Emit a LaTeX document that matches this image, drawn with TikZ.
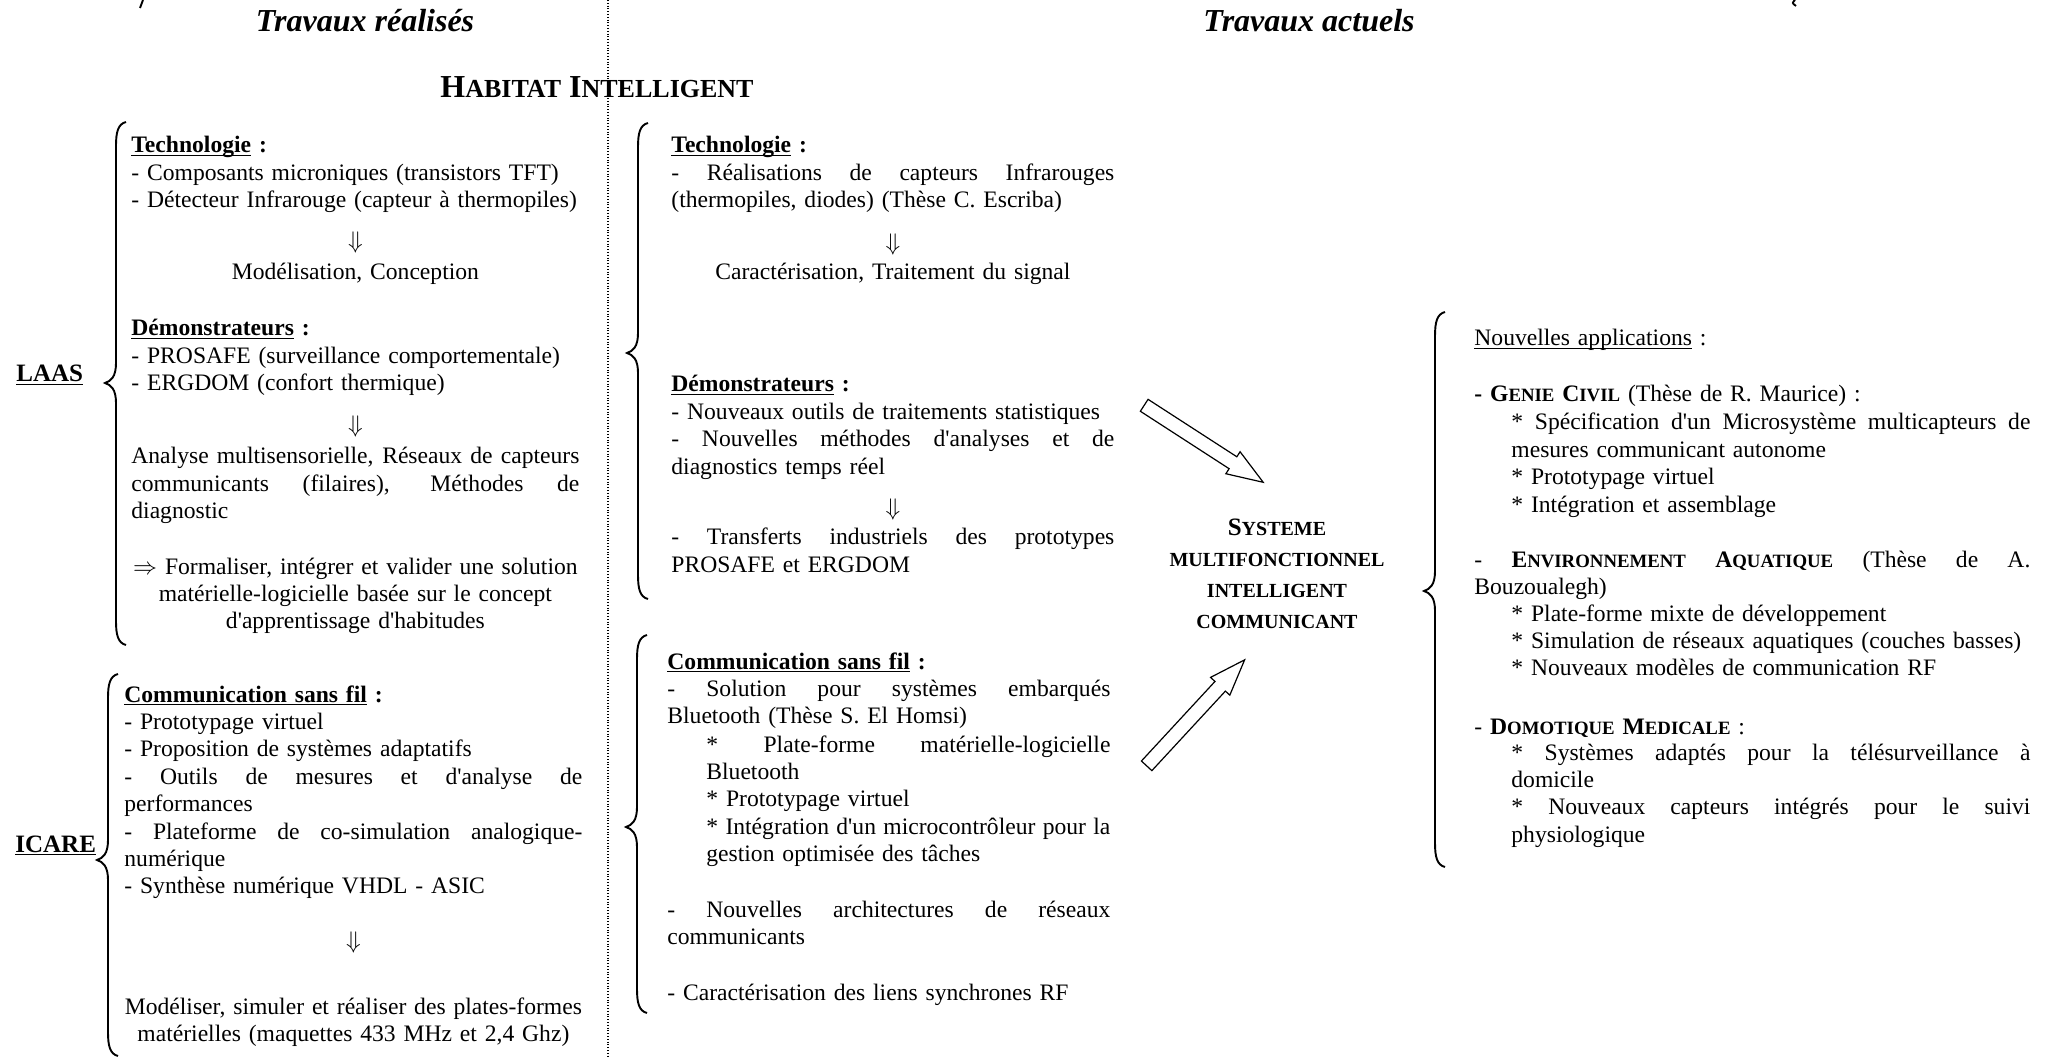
\documentclass[tikz,border=0pt]{standalone}
\usepackage{fontspec}
\newfontfamily\tnr{Liberation Serif}
\usetikzlibrary{calc,shapes.arrows}
\tolerance=10000 \hbadness=10000 \hfuzz=8pt
\hyphenpenalty=10000 \exhyphenpenalty=10000
\newcommand\bodyfont{\tnr\fontsize{11.8}{13.7}\selectfont}
\newcommand\smc[1]{{\fontsize{9.4}{13.7}\selectfont #1}}
% underline sitting just under the baseline
\newcommand\uln[1]{\begingroup\setbox0=\hbox{#1}\rlap{\rule[-1.7pt]{\wd0}{0.75pt}}\box0\endgroup}
% a line spread to the full text width
\newcommand\jline[1]{\leavevmode\hbox to \hsize{\spaceskip=0.25em plus 1fill\relax #1}}
% left curly brace: stem x, top y, tip y, bottom y
\newcommand\wbrace[4]{%
  \draw[bracestyle] ({#1+10},{#2}) .. controls ({#1+2},{#2+2}) and ({#1},{#2+10}) .. ({#1},{#2+24})
    -- ({#1},{#3-20}) .. controls ({#1},{#3-6}) and ({#1-5},{#3-2}) .. ({#1-11},{#3})
    .. controls ({#1-5},{#3+2}) and ({#1},{#3+6}) .. ({#1},{#3+20})
    -- ({#1},{#4-24}) .. controls ({#1},{#4-10}) and ({#1+2},{#4-2}) .. ({#1+10},{#4});}
\begin{document}
\begin{tikzpicture}[x=0.5pt,y=-0.5pt,
  blk/.style={anchor=base west, inner sep=0pt, font=\bodyfont, align=left, text width=#1},
  blkc/.style={anchor=base west, inner sep=0pt, font=\bodyfont, align=center, text width=#1},
  title/.style={anchor=base, inner sep=0pt, font=\tnr\fontsize{16}{19}\selectfont\bfseries\itshape},
  lab/.style={anchor=base west, inner sep=0pt, font=\tnr\fontsize{12.5}{14}\selectfont\bfseries},
  bracestyle/.style={line width=0.95pt},
  sep/.style={line width=0.55pt, dash pattern=on 0.5pt off 0.9pt},
  fatarrow/.style={draw, line width=0.6pt, fill=white, single arrow,
    single arrow head extend=3pt, minimum width=12.5pt,
    single arrow tip angle=40, inner xsep=0pt, inner ysep=3.25pt}]
\useasboundingbox (0,0) rectangle (2054,1058);

% column titles and separator
\node[title] (t1) at (365,32) {Travaux réalisés};
\node[title] (t2) at (1309,32) {Travaux actuels};
\coordinate (septop) at (608,0);
\coordinate (sepbot) at (608,1058);
\draw[sep] (septop) -- (sepbot);
\node[anchor=base, inner sep=0pt, font=\tnr\bfseries\fontsize{16}{18}\selectfont] (hab) at (597,98)
  {H{\fontsize{13}{18}\selectfont ABITAT} I{\fontsize{13}{18}\selectfont NTELLIGENT}};

% small marks along the top edge
\draw[bracestyle] (143,0) -- (140,8);
\draw[bracestyle] (1795,0) .. controls (1792,3) .. (1796,6);

% ---------------- LAAS ----------------
\node[lab] (laas) at (16,382) {\uln{LAAS}};
\wbrace{116}{122}{383}{645}
\node[blk=224pt] (l1) at (131,153) {\uln{\textbf{Technologie}} \textbf{:}\\
  - Composants microniques (transistors TFT)\\
  - Détecteur Infrarouge (capteur à thermopiles)};
\node[blkc=224pt] (l2) at (131,249) {$\Downarrow$};
\node[blkc=224pt] (l3) at (131,280) {Modélisation, Conception};
\node[blk=224pt] (l4) at (131,336) {\uln{\textbf{Démonstrateurs}} \textbf{:}\\
  - PROSAFE (surveillance comportementale)\\
  - ERGDOM (confort thermique)};
\node[blkc=224pt] (l5) at (131,433) {$\Downarrow$};
\node[blk=224pt] (l6) at (131,464) {\jline{Analyse multisensorielle, Réseaux de capteurs}\\
  \jline{communicants (filaires), Méthodes de}\\ diagnostic};
\node[blkc=224pt] (l7) at (131,574) {$\Rightarrow$ Formaliser, intégrer et valider une solution\\
  matérielle-logicielle basée sur le concept\\ d'apprentissage d'habitudes};

% ---------------- ICARE ----------------
\node[lab] (icare) at (15,852) {\uln{ICARE}};
\wbrace{108}{674}{860}{1056}
\node[blk=229pt] (i1) at (124,702) {\uln{\textbf{Communication sans fil}} \textbf{:}\\
  - Prototypage virtuel\\
  - Proposition de systèmes adaptatifs\\
  \jline{- Outils de mesures et d'analyse de}\\ performances\\
  \jline{- Plateforme de co-simulation analogique-}\\ numérique\\
  - Synthèse numérique VHDL - ASIC};
\node[blkc=229pt] (i2) at (124,948) {$\Downarrow$};
\node[blkc=229pt] (i3) at (124,1014) {Modéliser, simuler et réaliser des plates-formes\\
  matérielles (maquettes 433 MHz et 2,4 Ghz)};

% ---------------- current work, upper group ----------------
\wbrace{638}{123}{353}{599}
\node[blk=221.5pt] (m1) at (671,153) {\uln{\textbf{Technologie}} \textbf{:}\\
  \jline{- Réalisations de capteurs Infrarouges}\\ (thermopiles, diodes) (Thèse C. Escriba)};
\node[blkc=221.5pt] (m2) at (671,251) {$\Downarrow$};
\node[blkc=221.5pt] (m3) at (671,280) {Caractérisation, Traitement du signal};
\node[blk=221.5pt] (m4) at (671,392) {\uln{\textbf{Démonstrateurs}} \textbf{:}\\
  - Nouveaux outils de traitements statistiques\\
  \jline{- Nouvelles méthodes d'analyses et de}\\ diagnostics temps réel};
\node[blkc=221.5pt] (m5) at (671,516) {$\Downarrow$};
\node[blk=221.5pt] (m6) at (671,545) {\jline{- Transferts industriels des prototypes}\\ PROSAFE et ERGDOM};

% ---------------- current work, lower group ----------------
\wbrace{637}{635}{827}{1013}
\node[blk=221.5pt] (b1) at (667,669) {\uln{\textbf{Communication sans fil}} \textbf{:}\\
  \jline{- Solution pour systèmes embarqués}\\ Bluetooth (Thèse S. El Homsi)};
\node[blk=202pt] (b2) at (706,752) {\jline{* Plate-forme matérielle-logicielle}\\ Bluetooth\\
  {}* Prototypage virtuel\\
  \jline{* Intégration d'un microcontrôleur pour la}\\ gestion optimisée des tâches};
\node[blk=221.5pt] (b3) at (667,917) {\jline{- Nouvelles architectures de réseaux}\\ communicants};
\node[blk=221.5pt] (b4) at (667,1000) {- Caractérisation des liens synchrones RF};

% ---------------- central system ----------------
\node[anchor=base, inner sep=0pt, text width=150pt, align=center,
      font=\tnr\bfseries\fontsize{10}{15.5}\selectfont] (sys) at (1277,535)
  {{\fontsize{12.5}{15.5}\selectfont S}YSTEME\\ MULTIFONCTIONNEL\\ INTELLIGENT\\ COMMUNICANT};

% hollow arrows towards the system
\coordinate (a1s) at (1136,400);
\coordinate (a1e) at (1255,477);
\coordinate (a2s) at (1140,773);
\coordinate (a2e) at (1238,667);
\path let \p1=($(a1e)-(a1s)$), \n1={atan2(\y1,\x1)}, \n2={veclen(\x1,\y1)} in
  node[fatarrow, rotate=\n1, minimum height=\n2] (arr1) at ($(a1s)!0.5!(a1e)$) {};
\path let \p1=($(a2e)-(a2s)$), \n1={atan2(\y1,\x1)}, \n2={veclen(\x1,\y1)} in
  node[fatarrow, rotate=\n1, minimum height=\n2] (arr2) at ($(a2s)!0.5!(a2e)$) {};

% ---------------- new applications ----------------
\wbrace{1435}{312}{591}{867}
\node[blk=278pt] (r1) at (1474,346) {\uln{Nouvelles applications} :};
\node[blk=278pt] (r2) at (1474,402) {\textbf{- G\smc{ENIE} C\smc{IVIL}} (Thèse de R. Maurice) :};
\node[blk=259.5pt] (r3) at (1511,430) {\jline{* Spécification d'un Microsystème multicapteurs de}\\
  mesures communicant autonome\\
  {}* Prototypage virtuel\\
  {}* Intégration et assemblage};
\node[blk=278pt] (r4) at (1474,567) {\jline{- \textbf{E\smc{NVIRONNEMENT} A\smc{QUATIQUE}} (Thèse de A.}\\ Bouzoualegh)};
\node[blk=259.5pt] (r5) at (1511,621) {* Plate-forme mixte de développement\\
  {}* Simulation de réseaux aquatiques (couches basses)\\
  {}* Nouveaux modèles de communication RF};
\node[blk=278pt] (r6) at (1474,734) {- \textbf{D\smc{OMOTIQUE} M\smc{EDICALE}} :};
\node[blk=259.5pt] (r7) at (1511,760) {\jline{* Systèmes adaptés pour la télésurveillance à}\\ domicile\\
  \jline{* Nouveaux capteurs intégrés pour le suivi}\\ physiologique};
\end{tikzpicture}
\end{document}
